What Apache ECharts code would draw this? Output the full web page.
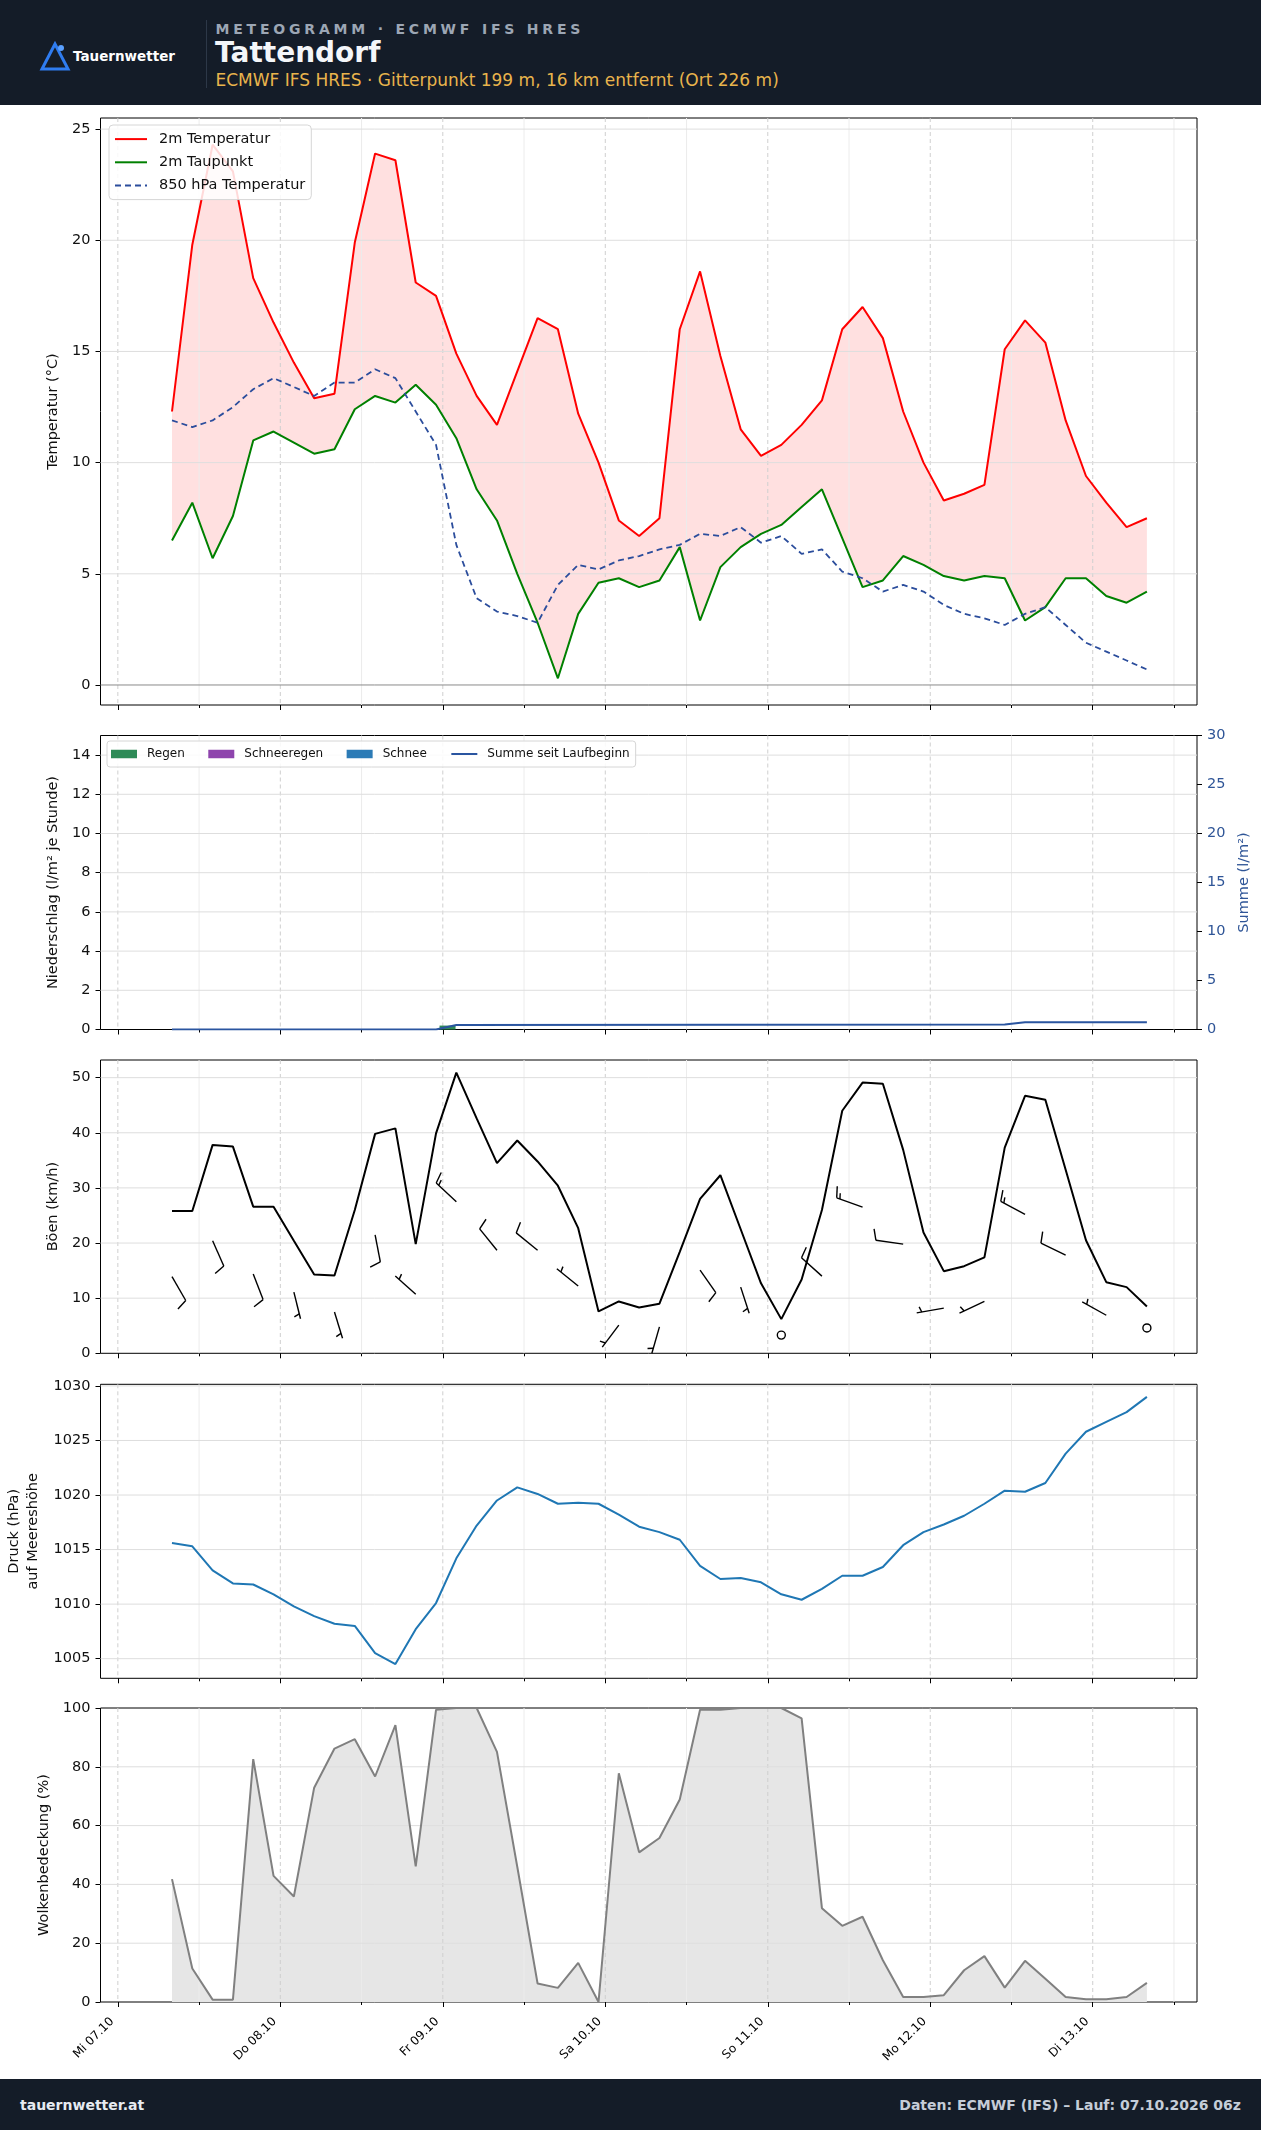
<!doctype html>
<html>
<head>
<meta charset="utf-8">
<title>Meteogramm Tattendorf</title>
<script src="https://cdn.jsdelivr.net/npm/echarts@6/dist/echarts.min.js"></script>
<style>
	body { margin: 0; background: #fff; font-family: "DejaVu Sans", sans-serif; }
	#wrap { position: relative; width: 1261px; height: 2130px; overflow: hidden; }
	#main { position: absolute; left: 0; top: 0; width: 1261px; height: 2130px; }
	.bar { position: absolute; left: 0; width: 1261px; background: #141c28; z-index: 2; }
	.txt { position: absolute; white-space: nowrap; }
</style>
</head>
<body>
<div id="wrap">
	<div id="main"></div>
	<!-- Kopfzeile -->
	<div class="bar" style="top:0; height:105px;">
		<svg style="position:absolute; left:39px; top:41px;" width="34" height="31">
			<path d="M16 3 L3 28 L29 28 Z" fill="none" stroke="#2f7cf0" stroke-width="3" stroke-linejoin="miter"/>
			<circle cx="22" cy="7" r="3" fill="#5aa0ff"/>
		</svg>
		<div class="txt" style="left:73px; top:50px; font-size:13.5px; line-height:13.5px; font-weight:bold; color:#fff;">Tauernwetter</div>
		<div style="position:absolute; left:206px; top:20px; width:1px; height:68px; background:#2d3848;"></div>
		<div class="txt" style="left:215.5px; top:21.5px; font-size:14px; line-height:14px; font-weight:bold; letter-spacing:3.8px; color:#9ca6b4;">METEOGRAMM · ECMWF IFS HRES</div>
		<div class="txt" style="left:215px; top:38.8px; font-size:28px; line-height:28px; font-weight:bold; color:#f4f6f9;">Tattendorf</div>
		<div class="txt" style="left:215.5px; top:72.1px; font-size:17px; line-height:17px; color:#e9b44c;">ECMWF IFS HRES · Gitterpunkt 199 m, 16 km entfernt (Ort 226 m)</div>
	</div>
	<!-- Fusszeile -->
	<div class="bar" style="top:2079px; height:51px;">
		<div class="txt" style="left:20px; top:18.5px; font-size:14px; line-height:14px; font-weight:bold; color:#e6ebf1;">tauernwetter.at</div>
		<div class="txt" style="right:20px; top:18.5px; font-size:14px; line-height:14px; font-weight:bold; color:#c5cdd8;">Daten: ECMWF (IFS) – Lauf: 07.10.2026 06z</div>
	</div>
</div>
<script>
	// Stunden ab Mi 07.10 00:00 (Ortszeit), 3-stuendlich
	var hours = [8,11,14,17,20,23,26,29,32,35,38,41,44,47,50,53,56,59,62,65,68,71,74,77,80,83,86,89,92,95,98,101,104,107,110,113,116,119,122,125,128,131,134,137,140,143,146,149,152];
	var dayTicks = [0,24,48,72,96,120,144];
	var noonTicks = [12,36,60,84,108,132,156];
	var dayLabels = ['Mi 07.10','Do 08.10','Fr 09.10','Sa 10.10','So 11.10','Mo 12.10','Di 13.10'];

	// Temperatur (°C)
	var temp2m = [12.3,19.8,24.3,23.1,18.3,16.3,14.5,12.9,13.1,19.9,23.9,23.6,18.1,17.5,14.9,13.0,11.7,14.1,16.5,16.0,12.2,10.0,7.4,6.7,7.5,16.0,18.6,14.8,11.5,10.3,10.8,11.7,12.8,16.0,17.0,15.6,12.3,10.0,8.3,8.6,9.0,15.1,16.4,15.4,11.9,9.4,8.2,7.1,7.5];
	var dew2m = [6.5,8.2,5.7,7.6,11.0,11.4,10.9,10.4,10.6,12.4,13.0,12.7,13.5,12.6,11.1,8.8,7.4,5.0,2.8,0.3,3.2,4.6,4.8,4.4,4.7,6.2,2.9,5.3,6.2,6.8,7.2,8.0,8.8,6.6,4.4,4.7,5.8,5.4,4.9,4.7,4.9,4.8,2.9,3.5,4.8,4.8,4.0,3.7,4.2];
	var t850 = [11.9,11.6,11.9,12.5,13.3,13.8,13.4,13.0,13.6,13.6,14.2,13.8,12.3,10.8,6.3,3.9,3.3,3.1,2.8,4.5,5.4,5.2,5.6,5.8,6.1,6.3,6.8,6.7,7.1,6.4,6.7,5.9,6.1,5.1,4.8,4.2,4.5,4.2,3.6,3.2,3.0,2.7,3.2,3.5,2.7,1.9,1.5,1.1,0.7];

	// Niederschlag (l/m² je Stunde) und Summe
	var regen = [[48.7, 0.2]];
	var schneeregen = [];
	var schnee = [];
	var sumHours = [8,47,50,131,134,152];
	var sumVals = [0,0,0.45,0.5,0.75,0.75];

	// Boeen (km/h)
	var gusts = [25.8,25.8,37.8,37.5,26.6,26.6,20.4,14.3,14.1,26.0,39.8,40.8,19.8,39.9,50.9,42.6,34.5,38.6,34.8,30.4,22.7,7.6,9.4,8.3,9.0,18.4,28.0,32.3,22.5,12.7,6.2,13.4,26.0,44.0,49.1,48.9,36.9,21.9,14.9,15.8,17.4,37.3,46.7,46.0,33.3,20.5,12.9,12.0,8.5];
	// Windfahnen: Mittelwind (km/h) und Richtung (Grad, woher)
	var barbHours = [8,14,20,26,32,38,44,50,56,62,68,74,80,86,92,98,104,110,116,122,128,134,140,146,152];
	var windSpeed = [13.9,20.4,14.4,11.1,7.5,21.5,10.7,27.5,18.7,18.7,12.2,5.1,4.8,15.1,12.0,3.3,14.0,26.5,19.8,8.2,9.4,25.2,17.8,6.9,4.6];
	var windDir = [150,156,159,166,163,169,312,313,321,309,309,217,196,145,162,0,312,290,278,260,245,298,296,299,0];

	// Druck (hPa)
	var pressure = [1015.6,1015.3,1013.1,1011.9,1011.8,1010.9,1009.8,1008.9,1008.2,1008.0,1005.5,1004.5,1007.7,1010.1,1014.2,1017.2,1019.5,1020.7,1020.1,1019.2,1019.3,1019.2,1018.2,1017.1,1016.6,1015.9,1013.5,1012.3,1012.4,1012.0,1010.9,1010.4,1011.4,1012.6,1012.6,1013.4,1015.4,1016.6,1017.3,1018.1,1019.2,1020.4,1020.3,1021.1,1023.8,1025.8,1026.7,1027.6,1029.0];

	// Wolkenbedeckung (%)
	var cloud = [41.8,11.4,0.8,0.8,82.6,42.9,35.9,72.9,86.2,89.4,76.7,94.2,46.1,99.4,100,100,85.1,46.0,6.3,4.8,13.3,0,77.8,50.9,55.8,68.9,99.4,99.4,100,100,100,96.5,31.9,25.9,29.0,14.2,1.7,1.7,2.3,10.8,15.6,4.9,14.0,7.9,1.7,0.9,0.9,1.7,6.5];

	var XMIN = -2.56, XMAX = 159.4;
	var FONT = 'DejaVu Sans';

	function pairs(xs, ys) {
		var out = [];
		for (var i = 0; i < xs.length; i++) out.push([xs[i], ys[i]]);
		return out;
	}

	// Gitternetz als eigene Serie, damit es ueber den Flaechen und unter den Linien liegt
	// Art: 0 = Tag (gestrichelt), 1 = Mittag, 2 = waagrecht, 3 = Nulllinie
	var gridStyles = [
		{stroke: '#cfcfcf', lineWidth: 1, lineDash: [4, 3]},
		{stroke: '#ececec', lineWidth: 1},
		{stroke: '#dedede', lineWidth: 1},
		{stroke: '#8a8a8a', lineWidth: 1}
	];
	function renderGrid(params, api) {
		var cs = params.coordSys;
		var kind = api.value(2);
		var p = api.coord([api.value(0), api.value(1)]);
		var shape = kind < 2
			? {x1: p[0], y1: cs.y, x2: p[0], y2: cs.y + cs.height}
			: {x1: cs.x, y1: p[1], x2: cs.x + cs.width, y2: p[1]};
		return {type: 'line', shape: shape, style: gridStyles[kind]};
	}
	function gridSeries(xi, yi, ymid, hVals, zeroLine) {
		var d = [];
		dayTicks.forEach(function (v) { d.push([v, ymid, 0]); });
		noonTicks.forEach(function (v) { d.push([v, ymid, 1]); });
		hVals.forEach(function (v) { d.push([70, v, 2]); });
		if (zeroLine) d.push([70, 0, 3]);
		return {type: 'custom', xAxisIndex: xi, yAxisIndex: yi, data: d, renderItem: renderGrid, silent: true, z: 2, clip: false};
	}

	// Niederschlagsbalken (16 px breit)
	function renderRain(params, api) {
		var p0 = api.coord([api.value(0), 0]);
		var p1 = api.coord([api.value(0), api.value(1)]);
		return {type: 'rect', shape: {x: p0[0] - 8, y: p1[1], width: 16, height: p0[1] - p1[1]}, style: {fill: api.visual('color')}};
	}

	var grids = [
		{left: 100.5, top: 118, width: 1096.5, height: 587},
		{left: 100.5, top: 735.5, width: 1096.5, height: 294},
		{left: 100.5, top: 1060, width: 1096.5, height: 293.3},
		{left: 100.5, top: 1384.3, width: 1096.5, height: 294},
		{left: 100.5, top: 1708, width: 1096.5, height: 294}
	];
	grids.forEach(function (g) {
		g.show = true; g.borderColor = '#000'; g.borderWidth = 1; g.backgroundColor = 'transparent';
		g.containLabel = false; g.outerBoundsMode = 'none';
	});

	var xAxes = [];
	for (var k = 0; k < 5; k++) {
		xAxes.push({
			type: 'value', gridIndex: k, min: XMIN, max: XMAX, position: 'bottom',
			axisLine: {show: false, onZero: false}, splitLine: {show: false},
			axisTick: {show: true, length: 5, customValues: dayTicks, lineStyle: {color: '#000', width: 1}},
			axisLabel: {show: k === 4, customValues: dayTicks, rotate: 45, margin: 12, padding: [0, 8, 0, 0], fontSize: 12, color: '#000', fontFamily: FONT,
				formatter: function (v) { return dayLabels[Math.round(v / 24)]; }}
		});
		xAxes.push({
			type: 'value', gridIndex: k, min: XMIN, max: XMAX, position: 'bottom',
			axisLine: {show: false, onZero: false}, splitLine: {show: false},
			axisTick: {show: true, length: 3, customValues: noonTicks, lineStyle: {color: '#000', width: 1}},
			axisLabel: {show: false}
		});
	}

	function yAx(gi, min, max, ticks, name, gap, more) {
		var a = {
			type: 'value', gridIndex: gi, min: min, max: max, position: 'left',
			axisLine: {show: false, onZero: false}, splitLine: {show: false},
			axisTick: {show: true, length: 5, customValues: ticks, lineStyle: {color: '#000', width: 1}},
			axisLabel: {customValues: ticks, margin: 10, fontSize: 14.5, color: '#111', fontFamily: FONT,
				formatter: function (v) { return String(v); }},
			name: name, nameLocation: 'middle', nameRotate: 90, nameGap: gap,
			nameTextStyle: {fontSize: 14.5, color: '#111', fontFamily: FONT}
		};
		if (more) more(a);
		return a;
	}

	var yAxes = [
		yAx(0, -0.9, 25.5, [0,5,10,15,20,25], 'Temperatur (°C)', 35.5),
		yAx(1, 0, 15, [0,2,4,6,8,10,12,14], 'Niederschlag (l/m² je Stunde)', 35),
		yAx(1, 0, 30, [0,5,10,15,20,25,30], 'Summe (l/m²)', 33, function (a) {
			a.position = 'right';
			a.axisLabel.color = '#2f5597';
			a.nameTextStyle.color = '#2f5597';
		}),
		yAx(2, 0, 53.2, [0,10,20,30,40,50], 'Böen (km/h)', 35.5),
		yAx(3, 1003.2, 1030.15, [1005,1010,1015,1020,1025,1030], 'Druck (hPa)\nauf Meereshöhe', 50, function (a) {
			a.nameTextStyle.lineHeight = 19;
		}),
		yAx(4, 0, 100, [0,20,40,60,80,100], 'Wolkenbedeckung (%)', 44.5)
	];

	// Flaeche zwischen Temperatur und Taupunkt
	function renderBand(params, api) {
		if (params.dataIndex !== 0) return null;
		var top = [], bot = [];
		for (var i = 0; i < hours.length; i++) {
			top.push(api.coord([hours[i], temp2m[i]]));
			bot.unshift(api.coord([hours[i], dew2m[i]]));
		}
		return {type: 'polygon', shape: {points: top.concat(bot)}, style: {fill: '#ffe0e0'}};
	}

	// Windfahnen (Knoten, wie matplotlib barbs)
	function renderBarb(params, api) {
		var p = api.coord([api.value(0), api.value(1)]);
		var kt = Math.round(api.value(1) / 1.852 / 5) * 5;
		var L = 27.5;
		var st = {stroke: '#000', lineWidth: 1.4, fill: null};
		if (kt === 0) {
			return {type: 'circle', shape: {cx: p[0], cy: p[1], r: 4}, style: st};
		}
		var a = api.value(2) * Math.PI / 180;
		var sx = Math.sin(a), sy = -Math.cos(a);
		var px = Math.cos(a), py = Math.sin(a);
		var ch = [{type: 'line', shape: {x1: p[0], y1: p[1], x2: p[0] + sx * L, y2: p[1] + sy * L}, style: st}];
		var full = Math.floor(kt / 10), half = kt % 10 >= 5;
		var off = L, sp = 0.125 * L;
		for (var n = 0; n < full; n++) {
			var bx = p[0] + sx * off, by = p[1] + sy * off;
			ch.push({type: 'line', shape: {x1: bx, y1: by, x2: bx + px * 0.4 * L + sx * 0.125 * L, y2: by + py * 0.4 * L + sy * 0.125 * L}, style: st});
			off -= sp;
		}
		if (half) {
			if (full === 0) off -= 1.5 * sp;
			var hx = p[0] + sx * off, hy = p[1] + sy * off;
			ch.push({type: 'line', shape: {x1: hx, y1: hy, x2: hx + px * 0.2 * L + sx * 0.0625 * L, y2: hy + py * 0.2 * L + sy * 0.0625 * L}, style: st});
		}
		return {type: 'group', children: ch};
	}

	var barbData = [];
	for (var j = 0; j < barbHours.length; j++) barbData.push([barbHours[j], windSpeed[j], windDir[j]]);

	var series = [
		// Temperatur
		{name: 'band', type: 'custom', xAxisIndex: 0, yAxisIndex: 0, data: pairs(hours, temp2m), renderItem: renderBand, silent: true, z: 1},
		gridSeries(0, 0, 12, [5,10,15,20,25], true),
		{name: '2m Temperatur', type: 'line', xAxisIndex: 0, yAxisIndex: 0, data: pairs(hours, temp2m),
			symbol: 'none', lineStyle: {color: '#ff0000', width: 2}, itemStyle: {color: '#ff0000'}, z: 3},
		{name: '2m Taupunkt', type: 'line', xAxisIndex: 0, yAxisIndex: 0, data: pairs(hours, dew2m),
			symbol: 'none', lineStyle: {color: '#008000', width: 2}, itemStyle: {color: '#008000'}, z: 3},
		{name: '850 hPa Temperatur', type: 'line', xAxisIndex: 0, yAxisIndex: 0, data: pairs(hours, t850),
			symbol: 'none', lineStyle: {color: '#2b4d9c', width: 1.8, type: [6, 4]}, itemStyle: {color: '#2b4d9c'}, z: 3},
		// Niederschlag
		gridSeries(2, 1, 7, [2,4,6,8,10,12,14]),
		{name: 'Regen', type: 'custom', xAxisIndex: 2, yAxisIndex: 1, data: regen, renderItem: renderRain,
			itemStyle: {color: '#2e8b57'}, silent: true, z: 3},
		{name: 'Schneeregen', type: 'custom', xAxisIndex: 2, yAxisIndex: 1, data: schneeregen, renderItem: renderRain,
			itemStyle: {color: '#8e44ad'}, silent: true, z: 3},
		{name: 'Schnee', type: 'custom', xAxisIndex: 2, yAxisIndex: 1, data: schnee, renderItem: renderRain,
			itemStyle: {color: '#2c7bb6'}, silent: true, z: 3},
		{name: 'Summe seit Laufbeginn', type: 'line', xAxisIndex: 2, yAxisIndex: 2, data: pairs(sumHours, sumVals),
			symbol: 'none', lineStyle: {color: '#2a55a0', width: 2}, itemStyle: {color: '#2a55a0'}, z: 3},
		// Boeen + Wind
		gridSeries(4, 3, 25, [10,20,30,40,50]),
		{name: 'Böen', type: 'line', xAxisIndex: 4, yAxisIndex: 3, data: pairs(hours, gusts),
			symbol: 'none', lineStyle: {color: '#000', width: 2}, z: 3},
		{name: 'Wind', type: 'custom', xAxisIndex: 4, yAxisIndex: 3, data: barbData, renderItem: renderBarb, silent: true, z: 4},
		// Druck
		gridSeries(6, 4, 1015, [1005,1010,1015,1020,1025,1030]),
		{name: 'Druck', type: 'line', xAxisIndex: 6, yAxisIndex: 4, data: pairs(hours, pressure),
			symbol: 'none', lineStyle: {color: '#1f77b4', width: 2}, z: 3},
		// Wolken
		{name: 'cloudfill', type: 'line', xAxisIndex: 8, yAxisIndex: 5, data: pairs(hours, cloud),
			symbol: 'none', lineStyle: {opacity: 0}, areaStyle: {color: '#e6e6e6', opacity: 1}, silent: true, z: 1},
		gridSeries(8, 5, 50, [20,40,60,80]),
		{name: 'Wolkenbedeckung', type: 'line', xAxisIndex: 8, yAxisIndex: 5, data: pairs(hours, cloud),
			symbol: 'none', lineStyle: {color: '#808080', width: 2}, z: 3}
	];

	var chart = echarts.init(document.getElementById('main'), null, {renderer: 'canvas'});
	chart.setOption({
		animation: false,
		backgroundColor: '#fff',
		textStyle: {fontFamily: FONT},
		grid: grids,
		xAxis: xAxes,
		yAxis: yAxes,
		legend: [
			{data: ['2m Temperatur', '2m Taupunkt', '850 hPa Temperatur'], orient: 'vertical', left: 109, top: 125,
				itemWidth: 32, itemHeight: 14, itemGap: 8.2, padding: [6.6, 6, 6.6, 5], selectedMode: false,
				itemStyle: {opacity: 0},
				backgroundColor: 'rgba(255,255,255,0.85)', borderColor: '#d6d6d6', borderWidth: 1, borderRadius: 4,
				textStyle: {fontSize: 14.5, color: '#111', lineHeight: 14, padding: [0, 0, 0, 7], fontFamily: FONT}},
			{data: [{name: 'Regen', icon: 'rect'}, {name: 'Schneeregen', icon: 'rect'}, {name: 'Schnee', icon: 'rect'},
					{name: 'Summe seit Laufbeginn', itemStyle: {opacity: 0}}],
				orient: 'horizontal', left: 107, top: 741, itemWidth: 26, itemHeight: 8.5, itemGap: 23.5, padding: [7, 6, 7, 4], selectedMode: false,
				backgroundColor: 'rgba(255,255,255,0.85)', borderColor: '#d6d6d6', borderWidth: 1, borderRadius: 3,
				textStyle: {fontSize: 12, color: '#111', padding: [0, 0, 0, 5], fontFamily: FONT}}
		],
		series: series
	});
</script>
</body>
</html>
